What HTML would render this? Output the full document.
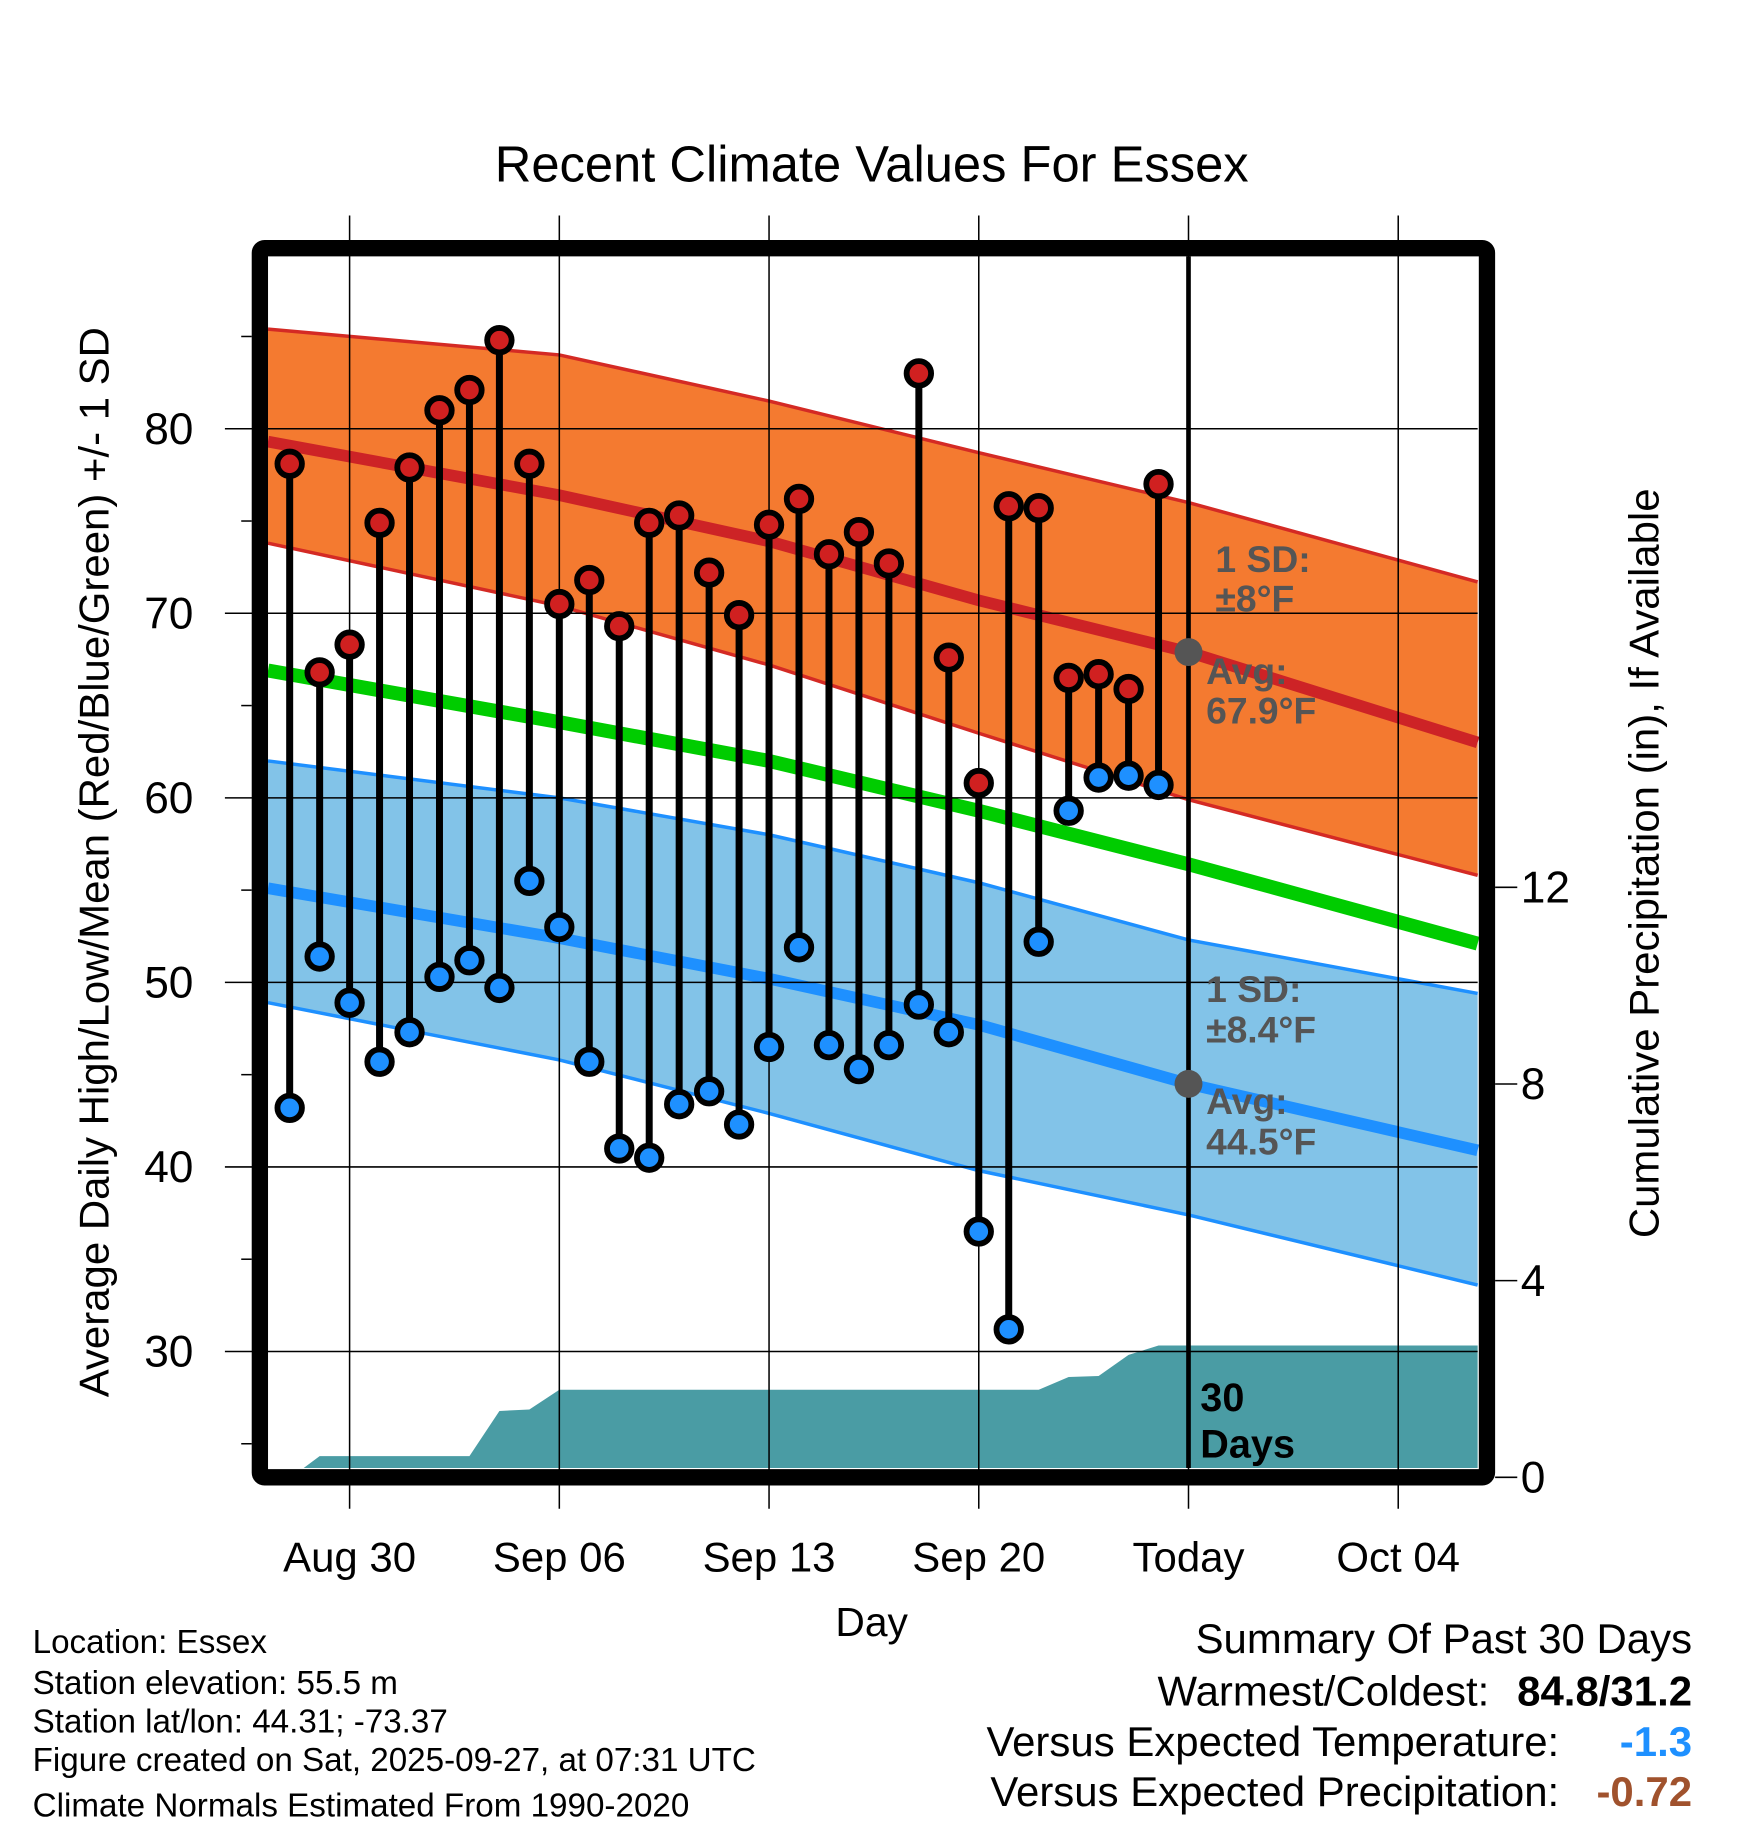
<!DOCTYPE html>
<html><head><meta charset="utf-8"><style>
html,body{margin:0;padding:0;background:#fff;}
svg{display:block;font-family:"Liberation Sans",Arial,sans-serif;}
</style></head><body>
<svg id="chart" width="1748" height="1828" viewBox="0 0 1500 1569" preserveAspectRatio="none" xmlns="http://www.w3.org/2000/svg">
<g id="bands"></g>
<g id="grid"></g>
<g id="marks"></g>
<g id="labels"></g>
</svg>
<script>
// ---- data ----
const obsDays = Array.from({length:30},(_,i)=>i-2); // Aug 28 .. Sep 26 (day 0 = Aug 30)
const highs = [78.1,66.8,68.3,74.9,77.9,81.0,82.1,84.8,78.1,70.5,71.8,69.3,74.9,75.3,72.2,69.9,74.8,76.2,73.2,74.4,72.7,83.0,67.6,60.8,75.8,75.7,66.5,66.7,65.9,77.0];
const lows  = [43.2,51.4,48.9,45.7,47.3,50.3,51.2,49.7,55.5,53.0,45.7,41.0,40.5,43.4,44.1,42.3,46.5,51.9,46.6,45.3,46.6,48.8,47.3,36.5,31.2,52.2,59.3,61.1,61.2,60.7];
const precip = [0,0.43,0.43,0.43,0.43,0.43,0.43,1.35,1.38,1.78,1.78,1.78,1.78,1.78,1.78,1.78,1.78,1.78,1.78,1.78,1.78,1.78,1.78,1.78,1.78,1.78,2.04,2.06,2.49,2.68];
const normDays = [-3,7,14,21,28,38];
const avgHigh = [79.3,76.4,73.9,70.7,67.9,63.0];
const highUpper = [85.4,84.0,81.5,78.7,76.0,71.7];
const highLower = [73.8,70.4,67.2,63.5,59.9,55.8];
const meanTemp = [66.9,64.1,62.0,59.3,56.4,52.1];
const avgLow = [55.1,52.4,50.2,47.7,44.5,40.9];
const lowUpper = [62.0,60.0,58.0,55.4,52.3,49.4];
const lowLower = [48.9,45.8,42.9,39.8,37.4,33.6];
const yTicks = [30,40,50,60,70,80];
const pTicks = [0,4,8,12];
const xTickDays = [0,7,14,21,28,35];
const xTickLabels = ["Aug 30","Sep 06","Sep 13","Sep 20","Today","Oct 04"];

// ---- scales ----
const L=230,R=1268,T=220,B=1260;
const x = d => 300 + d*25.71;
const y = v => 368 - (v-80)*15.84;
const yp = p => 1268 - p*42.2;
const NS="http://www.w3.org/2000/svg";
function mk(tag,attrs,parent,text){const e=document.createElementNS(NS,tag);for(const k in attrs)e.setAttribute(k,attrs[k]);if(text!==undefined)e.textContent=text;parent.appendChild(e);return e;}
const bands=document.getElementById('bands'),grid=document.getElementById('grid'),marks=document.getElementById('marks'),labels=document.getElementById('labels');
function clipX(d){return Math.min(R,Math.max(L,x(d)));}
function linePts(arr){return normDays.map((d,i)=>clipX(d)+','+y(arr[i])).join(' ');}
function bandPts(up,lo){const a=normDays.map((d,i)=>clipX(d)+','+y(up[i]));const b=normDays.map((d,i)=>clipX(d)+','+y(lo[i])).reverse();return a.concat(b).join(' ');}

let e;
e=mk('polygon',{points:bandPts(highUpper,highLower),fill:'#f47a30'},bands);

e=mk('polygon',{points:bandPts(lowUpper,lowLower),fill:'#82c3e8'},bands);

[[highUpper,'#d42a24',3],[highLower,'#d42a24',3],[lowUpper,'#1e90ff',3],[lowLower,'#1e90ff',3]].forEach(([a,c,w])=>{
  e=mk('polyline',{points:linePts(a),fill:'none',stroke:c,'stroke-width':w},bands);
  
});
e=mk('polyline',{points:linePts(avgHigh),fill:'none',stroke:'#cd2326','stroke-width':10},bands);

e=mk('polyline',{points:linePts(avgLow),fill:'none',stroke:'#1e90ff','stroke-width':10},bands);

e=mk('polyline',{points:linePts(meanTemp),fill:'none',stroke:'#00cc00','stroke-width':12},bands);


// precipitation area
let pp=[(x(obsDays[0])+12)+','+B];
obsDays.forEach((d,i)=>{ if(i>0) pp.push(x(d)+','+Math.min(B,yp(precip[i]))); });
pp.push(R+','+yp(precip[precip.length-1]));pp.push(R+','+B);
e=mk('polygon',{points:pp.join(' '),fill:'#4a9ca4'},bands);


// grid
xTickDays.forEach((d,i)=>{
  e=mk('line',{x1:x(d),x2:x(d),y1:185,y2:1295,stroke:'#000','stroke-width':1.3},grid);
  
  e=mk('text',{x:x(d),y:1349,'text-anchor':'middle','font-size':36},labels,xTickLabels[i]);
  
});
yTicks.forEach(v=>{
  e=mk('line',{x1:193,x2:R,y1:y(v),y2:y(v),stroke:'#000','stroke-width':1.3},grid);
  
  e=mk('text',{x:166,y:y(v)+13,'text-anchor':'end','font-size':38},labels,String(v));
  
  e=mk('line',{x1:207,x2:216,y1:y(v+5),y2:y(v+5),stroke:'#000','stroke-width':1.3},grid);
  
});
e=mk('line',{x1:207,x2:216,y1:y(25),y2:y(25),stroke:'#000','stroke-width':1.3},grid);
pTicks.forEach(p=>{
  e=mk('line',{x1:1283,x2:1302,y1:yp(p),y2:yp(p),stroke:'#000','stroke-width':1.3},grid);
  
  e=mk('text',{x:1305,y:yp(p)+13,'font-size':38},labels,String(p));
  
});

// today line
e=mk('line',{x1:x(28),x2:x(28),y1:T,y2:B,stroke:'#000','stroke-width':4},marks);


// stems & points
obsDays.forEach((d,i)=>{
  e=mk('line',{x1:x(d),x2:x(d),y1:y(highs[i]),y2:y(lows[i]),stroke:'#000','stroke-width':6},marks);
  
});
obsDays.forEach((d,i)=>{
  e=mk('circle',{cx:x(d),cy:y(highs[i]),r:10.5,fill:'#d02020',stroke:'#000','stroke-width':5},marks);
  
  e=mk('circle',{cx:x(d),cy:y(lows[i]),r:10.5,fill:'#1e90ff',stroke:'#000','stroke-width':5},marks);
  
});

// today normal markers
e=mk('circle',{cx:x(28),cy:y(avgHigh[4]),r:12,fill:'#555'},marks);

e=mk('circle',{cx:x(28),cy:y(avgLow[4]),r:12,fill:'#555'},marks);


// frame
e=mk('rect',{x:223,y:213,width:1053,height:1055,fill:'none',stroke:'#000','stroke-width':14,rx:4},marks);


function txt(s,a,name,parent){const t=mk('text',a,parent||labels,s);return t;}
const g='#555';
txt('1 SD:',{x:1043,y:491,'font-size':32,'font-weight':'bold',fill:g},'high-sd-label');
txt('±8°F',{x:1043,y:525,'font-size':32,'font-weight':'bold',fill:g},'high-sd-value');
txt('Avg:',{x:1035,y:587,'font-size':32,'font-weight':'bold',fill:g},'high-avg-label');
txt('67.9°F',{x:1035,y:621,'font-size':32,'font-weight':'bold',fill:g},'high-avg-value');
txt('1 SD:',{x:1035,y:860,'font-size':32,'font-weight':'bold',fill:g},'low-sd-label');
txt('±8.4°F',{x:1035,y:895,'font-size':32,'font-weight':'bold',fill:g},'low-sd-value');
txt('Avg:',{x:1035,y:956,'font-size':32,'font-weight':'bold',fill:g},'low-avg-label');
txt('44.5°F',{x:1035,y:991,'font-size':32,'font-weight':'bold',fill:g},'low-avg-value');
txt('30',{x:1030,y:1211,'font-size':34,'font-weight':'bold'},'days-count-label');
txt('Days',{x:1030,y:1251,'font-size':34,'font-weight':'bold'},'days-label');

txt('Recent Climate Values For Essex',{x:748,y:156,'text-anchor':'middle','font-size':43.5},'chart-title');
txt('Day',{x:748,y:1404,'text-anchor':'middle','font-size':35},'x-axis-title');
txt('Average Daily High/Low/Mean (Red/Blue/Green) +/- 1 SD',{x:0,y:0,'text-anchor':'middle','font-size':36,transform:'translate(93,740) rotate(-90)'},'y-axis-title');
txt('Cumulative Precipitation (in), If Available',{x:0,y:0,'text-anchor':'middle','font-size':36,transform:'translate(1423,741) rotate(-90)'},'precip-axis-title');

const info=['Location: Essex','Station elevation: 55.5 m','Station lat/lon: 44.31; -73.37','Figure created on Sat, 2025-09-27, at 07:31 UTC','Climate Normals Estimated From 1990-2020'];
const infoY=[1419,1454,1487,1520,1559];
info.forEach((s,i)=>txt(s,{x:28,y:infoY[i],'font-size':28.5},'station-info-line'));

txt('Summary Of Past 30 Days',{x:1452,y:1419,'text-anchor':'end','font-size':36},'summary-title');
txt('Warmest/Coldest:',{x:1278,y:1464,'text-anchor':'end','font-size':36},'warmest-coldest-label');
txt('84.8/31.2',{x:1452,y:1464,'text-anchor':'end','font-size':36,'font-weight':'bold'},'warmest-coldest-value');
txt('Versus Expected Temperature:',{x:1338,y:1507,'text-anchor':'end','font-size':36},'temp-anomaly-label');
txt('-1.3',{x:1452,y:1507,'text-anchor':'end','font-size':36,'font-weight':'bold',fill:'#1e90ff'},'temp-anomaly-value');
txt('Versus Expected Precipitation:',{x:1338,y:1550,'text-anchor':'end','font-size':36},'precip-anomaly-label');
txt('-0.72',{x:1452,y:1550,'text-anchor':'end','font-size':36,'font-weight':'bold',fill:'#a0522d'},'precip-anomaly-value');
</script>
</body></html>
